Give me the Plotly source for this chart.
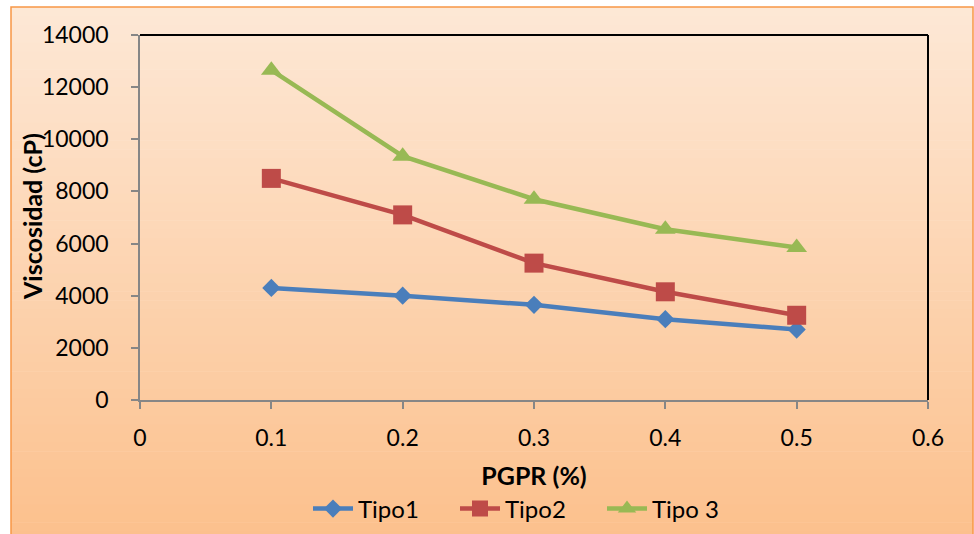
import plotly.graph_objects as go

pgpr = [0.1, 0.2, 0.3, 0.4, 0.5]
tipo1 = [4300, 4000, 3650, 3100, 2700]
tipo2 = [8500, 7100, 5250, 4150, 3250]
tipo3 = [12650, 9350, 7700, 6550, 5850]

series_names = ["Tipo1", "Tipo2", "Tipo 3"]
series_colors = ["#4A7EBB", "#BE4B48", "#98B954"]
series_symbols = ["diamond", "square", "triangle-up"]
series_sizes = [14, 19, 18]

W, H = 974, 534
L, R, T, B = 140, 46, 35, 134
pw, ph = W - L - R, H - T - B

def px_to_paper(x, y):
    return (x - L) / pw, (H - B - y) / ph

fig = go.Figure()
for name, vals, col, sym, sz in zip(series_names, [tipo1, tipo2, tipo3],
                                     series_colors, series_symbols, series_sizes):
    fig.add_trace(go.Scatter(
        x=pgpr, y=vals, name=name, mode="lines+markers",
        line=dict(color=col, width=4.5),
        marker=dict(symbol=sym, size=sz, color=col, line=dict(width=0)),
        cliponaxis=False,
    ))

# gradient background (paper-referenced, drawn below plot area)
shapes = []
top_c = (253, 232, 214)
bot_c = (252, 192, 140)
y0p, y1p = 7, 540
n = 60
for i in range(n):
    ya = y0p + (y1p - y0p) * i / n
    yb = y0p + (y1p - y0p) * (i + 1) / n + 0.6
    t = (i + 0.5) / n
    c = tuple(round(top_c[k] + (bot_c[k] - top_c[k]) * t) for k in range(3))
    xa, ya_p = px_to_paper(11, ya)
    xb, yb_p = px_to_paper(973, yb)
    shapes.append(dict(type="rect", xref="paper", yref="paper", layer="below",
                       x0=xa, x1=xb, y0=yb_p, y1=ya_p,
                       fillcolor="rgb(%d,%d,%d)" % c, line=dict(width=0)))
xa, ya_p = px_to_paper(11, 7)
xb, yb_p = px_to_paper(973, 545)
shapes.append(dict(type="rect", xref="paper", yref="paper", layer="below",
                   x0=xa, x1=xb, y0=yb_p, y1=ya_p,
                   fillcolor="rgba(0,0,0,0)", line=dict(color="#F79646", width=1.5)))
# black plot-area border (top and right)
shapes.append(dict(type="line", xref="paper", yref="paper", layer="above",
                   x0=0, x1=1, y0=1, y1=1, line=dict(color="black", width=2)))
shapes.append(dict(type="line", xref="paper", yref="paper", layer="above",
                   x0=1, x1=1, y0=0, y1=1, line=dict(color="black", width=2)))

ytitle_x, ytitle_y = px_to_paper(32, 217)
leg_x, leg_y = px_to_paper(308, 509)

font_family = "Lato"
fig.update_layout(
    width=W, height=H,
    margin=dict(l=L, r=R, t=T, b=B, autoexpand=False),
    paper_bgcolor="white",
    plot_bgcolor="white",
    font=dict(family=font_family, size=23, color="black"),
    shapes=shapes,
    annotations=[dict(text="<b>Viscosidad (cP)</b>", xref="paper", yref="paper",
                      x=ytitle_x, y=ytitle_y, xanchor="center", yanchor="middle",
                      textangle=-90, showarrow=False, font=dict(size=25))],
    showlegend=True,
    legend=dict(orientation="h", x=leg_x, xanchor="left", y=leg_y, yanchor="middle",
                bgcolor="rgba(0,0,0,0)", font=dict(size=24), itemwidth=40,
                entrywidth=92, entrywidthmode="pixels", tracegroupgap=0),
    xaxis=dict(range=[0, 0.6], tickvals=[0, 0.1, 0.2, 0.3, 0.4, 0.5, 0.6],
               ticktext=["0", "0.1", "0.2", "0.3", "0.4", "0.5", "0.6"],
               showgrid=False, zeroline=False, showline=True, linecolor="#868686",
               linewidth=1.5, ticks="outside", ticklen=7, tickcolor="#868686",
               tickwidth=1.5, ticklabelstandoff=10, automargin=False,
               title=dict(text="<b>PGPR (%)</b>", standoff=17,
                          font=dict(size=25))),
    yaxis=dict(range=[0, 14000], tickvals=[0, 2000, 4000, 6000, 8000, 10000, 12000, 14000],
               ticktext=["0", "2000", "4000", "6000", "8000", "10000", "12000", "14000"],
               showgrid=False, zeroline=False, showline=True, linecolor="#868686",
               linewidth=1.5, ticks="outside", ticklen=7, tickcolor="#868686",
               tickwidth=1.5, ticklabelstandoff=18, automargin=False),
)

fig.write_html("out.html")
